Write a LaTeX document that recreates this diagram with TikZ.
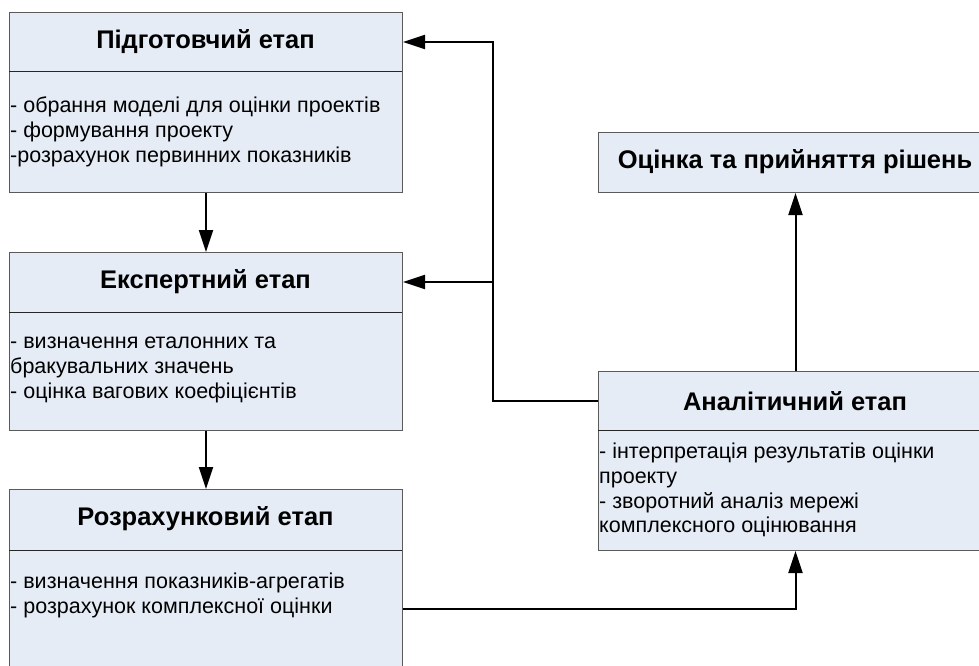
\documentclass[tikz,border=0pt]{standalone}
\usepackage{fontspec}
\setmainfont{Liberation Sans}
\usetikzlibrary{arrows.meta,calc}
\definecolor{boxfill}{RGB}{230,236,246}
\definecolor{boxline}{RGB}{90,90,90}
\begin{document}
\begin{tikzpicture}[x=1pt,y=-1pt,
  box/.style={draw=boxline, line width=1pt, fill=boxfill, rectangle, inner sep=0pt, minimum width=393pt, anchor=north west},
  sepline/.style={draw=black!85, line width=1pt},
  ttl/.style={font=\fontsize{25.5}{28}\selectfont\bfseries, inner sep=0pt, text=black},
  bodytxt/.style={font=\fontsize{21.5}{24.8}\selectfont, inner sep=0pt, align=left, anchor=west, text=black},
  arr/.style={line width=2pt, -{Triangle[length=22pt,width=14pt]}},
  con/.style={line width=2pt}]
\useasboundingbox (0,0) rectangle (979,666);
\begin{scope}
\clip (0,0) rectangle (979,666);
% boxes
\node[box, minimum height=180pt] (p1) at (9,12) {};
\node[box, minimum height=178pt] (p2) at (9,252) {};
\node[box, minimum height=180pt] (p3) at (9,489) {};
\node[box, minimum width=394pt, minimum height=60pt] (oc) at (598,132) {};
\node[box, minimum width=394pt, minimum height=179pt] (an) at (598,371) {};
% header separators
\draw[sepline] (9,72) -- (402,72);
\draw[sepline] (9,312) -- (402,312);
\draw[sepline] (9,550) -- (402,550);
\draw[sepline] (598,430) -- (992,430);
% titles
\node[ttl] (p1t) at (205.5,42) {Підготовчий етап};
\node[ttl] (p2t) at (205.5,282) {Експертний етап};
\node[ttl] (p3t) at (205.5,519) {Розрахунковий етап};
\node[ttl] (oct) at (795,162) {Оцінка та прийняття рішень};
\node[ttl] (ant) at (795,401) {Аналітичний етап};
% bodies
\node[bodytxt] (p1b) at (10,132) {- обрання моделі для оцінки проектів\\- формування проекту\\-розрахунок первинних показників};
\node[bodytxt] (p2b) at (10,370) {- визначення еталонних та\\бракувальних значень\\- оцінка вагових коефіцієнтів};
\node[bodytxt] (p3b) at (10,595.5) {- визначення показників-агрегатів\\- розрахунок комплексної оцінки};
\node[bodytxt] (anb) at (599,490) {- інтерпретація результатів оцінки\\проекту\\- зворотний аналіз мережі\\комплексного оцінювання};
\end{scope}
% connectors
\draw[arr] (p1.south) -- (p2.north);
\draw[arr] (p2.south) -- (p3.north);
\draw[arr] (p3.east |- 0,609) -| (an.south);
\draw[arr] (an.north) -- (oc.south);
\coordinate (jx) at (493,0);
\draw[arr] (an.west |- ant) -| (jx |- p1t) -- (p1.east |- p1t);
\draw[arr] (jx |- p2t) -- (p2.east |- p2t);
\end{tikzpicture}
\end{document}
